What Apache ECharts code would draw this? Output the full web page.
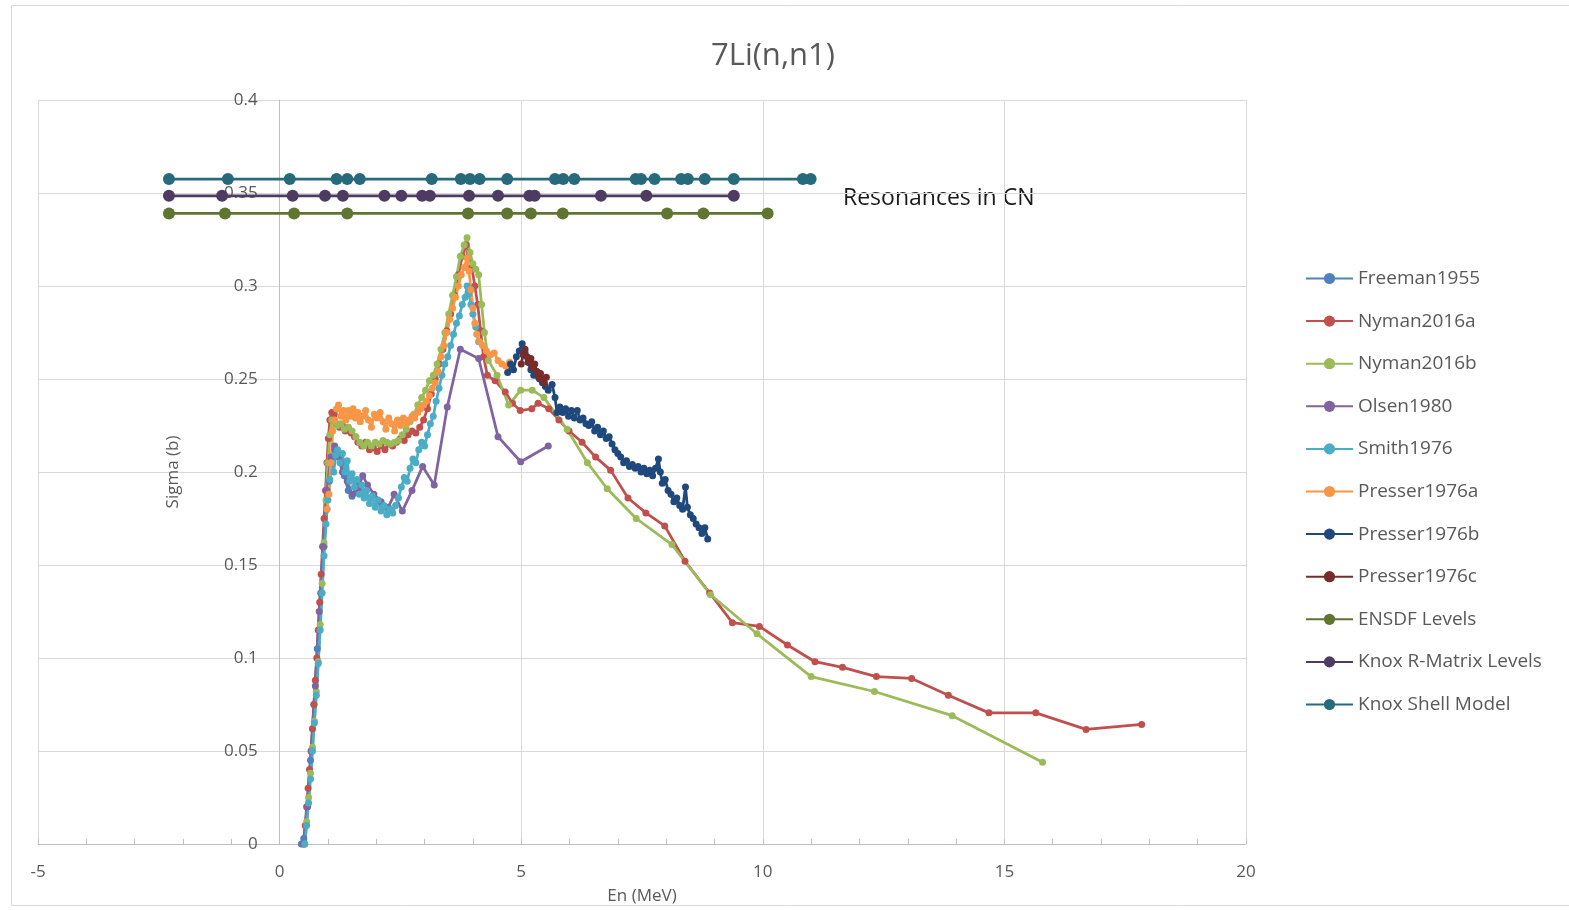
<!DOCTYPE html>
<html>
<head>
<meta charset="utf-8">
<script src="https://cdn.jsdelivr.net/npm/echarts@6/dist/echarts.min.js"></script>
<style>
html,body{margin:0;padding:0;background:#fff;}
#chart{width:1569px;height:910px;}
</style>
</head>
<body>
<div id="chart"></div>
<script>
// ---- Data (En in MeV, Sigma in b) ----
const freeman1955 = [[0.45,0.000],[0.50,0.003],[0.57,0.020],[0.64,0.045],[0.71,0.075],[0.78,0.105],[0.85,0.135],[0.92,0.160],[0.98,0.180],[1.03,0.195],[1.08,0.205],[1.14,0.212],[1.20,0.210],[1.27,0.205],[1.34,0.198],[1.42,0.190],[1.50,0.187],[1.58,0.189],[1.66,0.193]];

const nyman2016a = [[0.50,0.000],[0.53,0.010],[0.56,0.020],[0.59,0.030],[0.62,0.040],[0.65,0.050],[0.68,0.062],[0.71,0.075],[0.74,0.088],[0.77,0.100],[0.80,0.115],[0.83,0.130],[0.86,0.145],[0.89,0.160],[0.92,0.175],[0.95,0.190],[0.98,0.205],[1.01,0.218],[1.04,0.228],[1.08,0.232],[1.13,0.231],[1.18,0.226],[1.24,0.224],[1.30,0.225],[1.36,0.222],[1.42,0.224],[1.48,0.221],[1.55,0.219],[1.62,0.216],[1.70,0.214],[1.78,0.216],[1.86,0.212],[1.94,0.213],[2.02,0.211],[2.10,0.214],[2.18,0.212],[2.26,0.215],[2.34,0.214],[2.42,0.216],[2.50,0.218],[2.58,0.217],[2.66,0.220],[2.74,0.222],[2.82,0.221],[2.90,0.224],[2.98,0.228],[3.06,0.234],[3.14,0.242],[3.22,0.250],[3.30,0.258],[3.38,0.266],[3.46,0.276],[3.54,0.285],[3.62,0.295],[3.70,0.306],[3.78,0.316],[3.86,0.322],[3.92,0.318],[3.98,0.310],[4.04,0.300],[4.10,0.290],[4.16,0.276],[4.22,0.262],[4.30,0.252],[4.46,0.249],[4.67,0.243],[4.82,0.237],[4.98,0.233],[5.22,0.234],[5.35,0.237],[5.57,0.234],[5.78,0.228],[5.99,0.222],[6.26,0.216],[6.54,0.208],[6.85,0.201],[7.21,0.186],[7.58,0.178],[7.97,0.171],[8.39,0.152],[8.90,0.135],[9.37,0.119],[9.93,0.117],[10.51,0.107],[11.08,0.098],[11.65,0.095],[12.35,0.090],[13.08,0.089],[13.84,0.080],[14.68,0.0705],[15.65,0.0705],[16.69,0.0616],[17.84,0.0643]];

const nyman2016b = [[0.52,0.000],[0.56,0.012],[0.60,0.025],[0.64,0.038],[0.68,0.052],[0.72,0.066],[0.76,0.082],[0.80,0.098],[0.84,0.118],[0.88,0.140],[0.92,0.162],[0.96,0.185],[1.00,0.205],[1.04,0.220],[1.08,0.228],[1.14,0.227],[1.20,0.225],[1.27,0.226],[1.34,0.223],[1.42,0.224],[1.50,0.222],[1.58,0.219],[1.66,0.216],[1.74,0.214],[1.82,0.216],[1.90,0.214],[1.98,0.216],[2.06,0.215],[2.14,0.217],[2.22,0.216],[2.30,0.215],[2.38,0.216],[2.46,0.217],[2.54,0.220],[2.62,0.223],[2.70,0.227],[2.78,0.231],[2.86,0.236],[2.94,0.240],[3.02,0.244],[3.10,0.249],[3.18,0.252],[3.26,0.258],[3.34,0.266],[3.42,0.275],[3.50,0.285],[3.58,0.295],[3.66,0.305],[3.74,0.316],[3.82,0.322],[3.88,0.326],[3.94,0.318],[4.00,0.312],[4.06,0.309],[4.12,0.306],[4.18,0.290],[4.24,0.275],[4.32,0.260],[4.50,0.252],[4.74,0.236],[4.99,0.244],[5.23,0.244],[5.47,0.240],[5.95,0.223],[6.37,0.205],[6.78,0.191],[7.38,0.175],[8.12,0.161],[8.92,0.134],[9.88,0.113],[11.00,0.090],[12.31,0.082],[13.92,0.069],[15.79,0.044]];

const olsen1980 = [[0.50,0.000],[0.58,0.020],[0.66,0.050],[0.74,0.085],[0.82,0.125],[0.90,0.160],[0.98,0.190],[1.06,0.208],[1.14,0.214],[1.22,0.208],[1.30,0.200],[1.40,0.195],[1.50,0.188],[1.62,0.191],[1.72,0.198],[1.82,0.193],[1.95,0.188],[2.10,0.184],[2.25,0.181],[2.37,0.188],[2.54,0.179],[2.74,0.190],[2.96,0.203],[3.20,0.193],[3.47,0.235],[3.74,0.266],[4.12,0.261],[4.52,0.219],[4.99,0.2055],[5.56,0.214]];

const smith1976 = [[0.52,0.000],[0.56,0.010],[0.60,0.022],[0.64,0.035],[0.68,0.050],[0.72,0.065],[0.76,0.080],[0.80,0.097],[0.84,0.115],[0.88,0.135],[0.92,0.155],[0.96,0.172],[1.00,0.185],[1.04,0.196],[1.08,0.205],[1.12,0.200],[1.16,0.209],[1.20,0.212],[1.25,0.205],[1.30,0.210],[1.35,0.200],[1.40,0.206],[1.45,0.195],[1.50,0.199],[1.55,0.192],[1.60,0.196],[1.65,0.188],[1.70,0.193],[1.75,0.186],[1.80,0.190],[1.86,0.183],[1.92,0.187],[1.98,0.181],[2.04,0.185],[2.10,0.179],[2.16,0.182],[2.22,0.177],[2.28,0.180],[2.34,0.178],[2.40,0.182],[2.46,0.186],[2.52,0.192],[2.58,0.197],[2.64,0.195],[2.70,0.202],[2.76,0.207],[2.82,0.205],[2.88,0.212],[2.94,0.216],[3.00,0.214],[3.06,0.220],[3.12,0.226],[3.18,0.230],[3.24,0.238],[3.30,0.245],[3.36,0.252],[3.42,0.258],[3.48,0.262],[3.54,0.268],[3.60,0.274],[3.66,0.280],[3.72,0.284],[3.78,0.290],[3.84,0.294],[3.88,0.300],[3.92,0.296],[3.96,0.290],[4.00,0.285],[4.06,0.278],[4.12,0.270]];

const presser1976a = [[0.98,0.180],[1.02,0.188],[1.06,0.205],[1.10,0.222],[1.14,0.228],[1.18,0.234],[1.22,0.236],[1.27,0.230],[1.32,0.233],[1.37,0.228],[1.42,0.233],[1.47,0.230],[1.52,0.234],[1.57,0.229],[1.62,0.232],[1.67,0.227],[1.72,0.230],[1.78,0.233],[1.84,0.228],[1.90,0.224],[1.96,0.231],[2.02,0.229],[2.08,0.232],[2.14,0.227],[2.20,0.223],[2.26,0.229],[2.32,0.226],[2.38,0.222],[2.44,0.228],[2.50,0.225],[2.56,0.229],[2.62,0.226],[2.68,0.228],[2.74,0.230],[2.80,0.229],[2.86,0.232],[2.92,0.234],[2.98,0.236],[3.04,0.238],[3.10,0.241],[3.16,0.245],[3.22,0.248],[3.28,0.254],[3.34,0.262],[3.40,0.268],[3.46,0.275],[3.52,0.282],[3.58,0.288],[3.64,0.294],[3.70,0.300],[3.76,0.306],[3.82,0.310],[3.88,0.315],[3.92,0.308],[3.96,0.298],[4.00,0.288],[4.04,0.280],[4.08,0.274],[4.14,0.270],[4.20,0.268],[4.28,0.265],[4.36,0.263],[4.44,0.264],[4.52,0.260],[4.60,0.258],[4.68,0.257],[4.76,0.259]];

const presser1976b = [[4.72,0.2535],[4.78,0.258],[4.84,0.255],[4.90,0.262],[4.96,0.265],[5.02,0.269],[5.08,0.264],[5.14,0.259],[5.20,0.255],[5.26,0.252],[5.32,0.254],[5.38,0.250],[5.44,0.248],[5.50,0.246],[5.56,0.244],[5.64,0.247],[5.70,0.240],[5.74,0.232],[5.80,0.235],[5.86,0.232],[5.92,0.234],[5.98,0.230],[6.04,0.233],[6.10,0.229],[6.16,0.233],[6.22,0.228],[6.28,0.229],[6.34,0.226],[6.40,0.225],[6.46,0.227],[6.52,0.222],[6.58,0.224],[6.64,0.220],[6.70,0.222],[6.76,0.218],[6.82,0.219],[6.88,0.215],[6.94,0.212],[7.00,0.210],[7.06,0.208],[7.12,0.205],[7.18,0.206],[7.24,0.203],[7.30,0.204],[7.36,0.202],[7.42,0.203],[7.48,0.200],[7.54,0.202],[7.60,0.199],[7.66,0.201],[7.72,0.198],[7.78,0.202],[7.84,0.207],[7.88,0.200],[7.92,0.194],[7.98,0.196],[8.04,0.190],[8.10,0.188],[8.16,0.184],[8.22,0.186],[8.28,0.182],[8.34,0.180],[8.40,0.192],[8.44,0.181],[8.50,0.177],[8.56,0.175],[8.62,0.172],[8.68,0.170],[8.74,0.167],[8.80,0.170],[8.86,0.164]];

const presser1976c = [[5.00,0.258],[5.04,0.263],[5.08,0.266],[5.12,0.262],[5.16,0.259],[5.20,0.261],[5.24,0.256],[5.28,0.258],[5.32,0.254],[5.36,0.251],[5.40,0.253],[5.44,0.250],[5.48,0.248],[5.52,0.251]];

// Resonance level energies (plotted at fixed heights)
const ensdfLevels = [-2.29,-1.13,0.30,1.40,3.90,4.71,5.20,5.86,8.02,8.77,10.10];
const ensdfY = 0.339;
const knoxRMatrixLevels = [-2.29,-1.19,0.27,0.94,1.31,2.17,2.52,2.95,3.11,3.92,4.52,5.17,5.28,6.65,7.59,9.40];
const knoxRMatrixY = 0.3485;
const knoxShellModel = [-2.29,-1.07,0.21,1.18,1.40,1.66,3.15,3.75,3.94,4.14,4.71,5.70,5.87,6.10,7.37,7.48,7.76,8.31,8.45,8.80,9.40,10.83,10.99];
const knoxShellY = 0.3575;

const xTicks = [-5, 0, 5, 10, 15, 20];
const yTicks = [0, 0.05, 0.1, 0.15, 0.2, 0.25, 0.3, 0.35, 0.4];

// ---- Chart ----
const FONT = 'Open Sans';
const GRAY = '#595959';
const GRID_LEFT = 38, GRID_RIGHT = 323, CHART_W = 1569;

function dataSeries(name, data, color) {
  return {
    name: name, type: 'line', data: data,
    symbol: 'circle', symbolSize: 7,
    lineStyle: { width: 2.75, color: color },
    itemStyle: { color: color },
    emphasis: { disabled: true }
  };
}
function levelSeries(name, xs, y, color) {
  return {
    name: name, type: 'line', data: xs.map(x => [x, y]),
    symbol: 'circle', symbolSize: 12,
    lineStyle: { width: 2.75, color: color },
    itemStyle: { color: color },
    emphasis: { disabled: true }
  };
}

// y axis crosses the x axis at En = 0
const plotW = CHART_W - GRID_LEFT - GRID_RIGHT;
const yAxisOffset = -plotW * (0 - xTicks[0]) / (xTicks[xTicks.length - 1] - xTicks[0]);

const chart = echarts.init(document.getElementById('chart'), null, { renderer: 'canvas' });
chart.setOption({
  animation: false,
  backgroundColor: '#ffffff',
  title: {
    text: '7Li(n,n1)', left: 711, top: 41, padding: 0,
    textStyle: { fontFamily: FONT, fontSize: 31, fontWeight: 'normal', color: GRAY }
  },
  grid: { left: GRID_LEFT, right: GRID_RIGHT, top: 100, bottom: 66, containLabel: false, outerBoundsMode: 'none' },
  xAxis: {
    type: 'value', min: xTicks[0], max: xTicks[xTicks.length - 1], interval: 5,
    name: 'En (MeV)', nameLocation: 'middle', nameGap: 44,
    nameTextStyle: { fontFamily: FONT, fontSize: 17, color: GRAY },
    axisLine: { show: true, onZero: false, lineStyle: { color: '#BFBFBF', width: 1 } },
    axisTick: { show: true, inside: true, length: 5, lineStyle: { color: '#BFBFBF' } },
    minorTick: { show: true, splitNumber: 5, length: 5, lineStyle: { color: '#BFBFBF' } },
    axisLabel: { fontFamily: FONT, fontSize: 17, color: GRAY, margin: 20 },
    splitLine: { show: true, lineStyle: { color: '#D9D9D9', width: 1 } }
  },
  yAxis: {
    type: 'value', min: yTicks[0], max: yTicks[yTicks.length - 1], interval: 0.05,
    position: 'left', offset: yAxisOffset,
    name: 'Sigma (b)', nameLocation: 'middle', nameGap: 98,
    nameTextStyle: { fontFamily: FONT, fontSize: 17, color: GRAY },
    axisLine: { show: true, onZero: false, lineStyle: { color: '#BFBFBF', width: 1 } },
    axisTick: { show: false },
    axisLabel: { fontFamily: FONT, fontSize: 17, color: GRAY, margin: 22,
      formatter: v => String(Math.round(v * 100) / 100) },
    splitLine: { show: true, lineStyle: { color: '#D9D9D9', width: 1 } }
  },
  legend: {
    orient: 'vertical', left: 1305, top: 269, padding: 0,
    itemWidth: 47, itemHeight: 14, itemGap: 23.6,
    textStyle: { fontFamily: FONT, fontSize: 19, color: GRAY },
    data: ['Freeman1955','Nyman2016a','Nyman2016b','Olsen1980','Smith1976','Presser1976a','Presser1976b','Presser1976c','ENSDF Levels','Knox R-Matrix Levels','Knox Shell Model']
  },
  graphic: [
    { type: 'rect', z: -10, silent: true,
      shape: { x: 11.5, y: 5.5, width: 1580, height: 900 },
      style: { fill: 'none', stroke: '#D9D9D9', lineWidth: 1 } },
    { type: 'text', left: 843, top: 187, silent: true,
      style: { text: 'Resonances in CN', font: '23px "Open Sans"', fill: '#1a1a1a' } }
  ],
  series: [
    dataSeries('Freeman1955', freeman1955, '#4F81BD'),
    dataSeries('Nyman2016a', nyman2016a, '#C0504D'),
    dataSeries('Nyman2016b', nyman2016b, '#9BBB59'),
    dataSeries('Olsen1980', olsen1980, '#8064A2'),
    dataSeries('Smith1976', smith1976, '#4BACC6'),
    dataSeries('Presser1976a', presser1976a, '#F79646'),
    dataSeries('Presser1976b', presser1976b, '#1F497D'),
    dataSeries('Presser1976c', presser1976c, '#772C2A'),
    levelSeries('ENSDF Levels', ensdfLevels, ensdfY, '#5F7530'),
    levelSeries('Knox R-Matrix Levels', knoxRMatrixLevels, knoxRMatrixY, '#4D3B62'),
    levelSeries('Knox Shell Model', knoxShellModel, knoxShellY, '#276A7C')
  ]
});
</script>
</body>
</html>
